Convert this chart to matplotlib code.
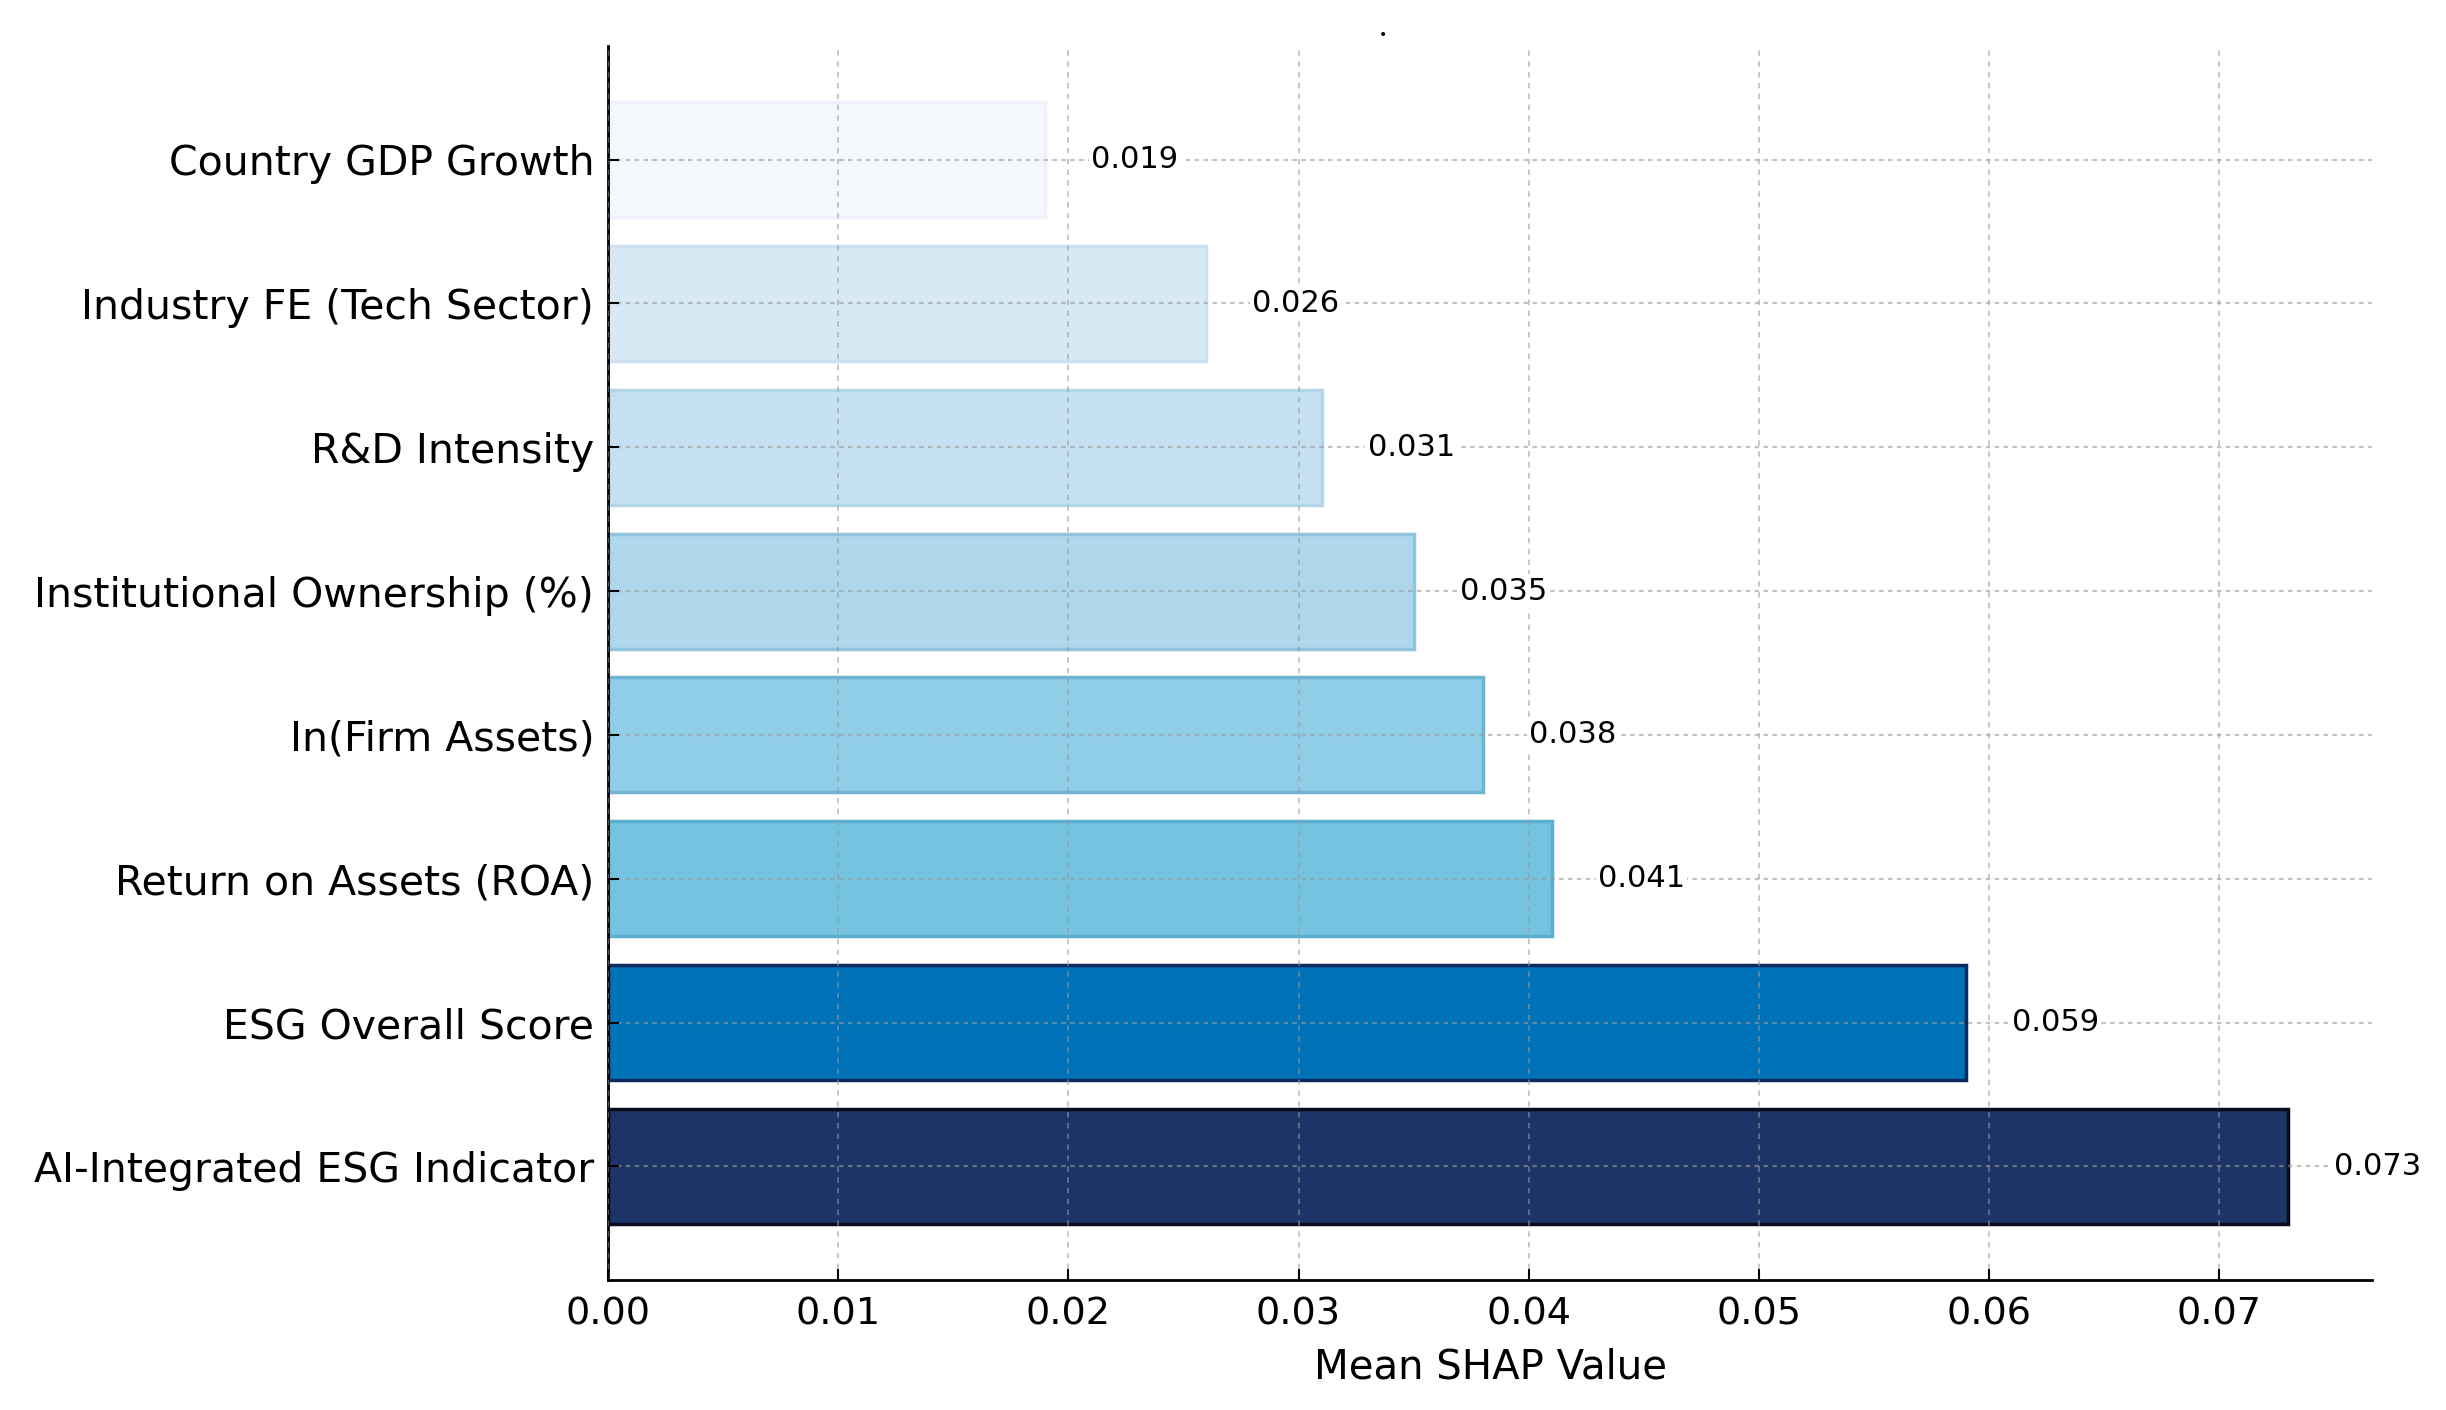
import matplotlib
matplotlib.use("Agg")
import matplotlib.pyplot as plt

#----Data----#
features = ["AI-Integrated ESG Indicator", "ESG Overall Score", "Return on Assets (ROA)",
            "In(Firm Assets)", "Institutional Ownership (%)", "R&D Intensity",
            "Industry FE (Tech Sector)", "Country GDP Growth"]
shap_values = [0.073, 0.059, 0.041, 0.038, 0.035, 0.031, 0.026, 0.019]
value_labels = ["0.073", "0.059", "0.041", "0.038", "0.035", "0.031", "0.026", "0.019"]
xtick_values = [0.00, 0.01, 0.02, 0.03, 0.04, 0.05, 0.06, 0.07]
xtick_labels = ["0.00", "0.01", "0.02", "0.03", "0.04", "0.05", "0.06", "0.07"]

bar_colors = ["#1d3566", "#0072b8", "#74c3e1", "#90cde6", "#aed7ec", "#c5e0f1", "#d7e9f5", "#f4f7fb"]
edge_colors = ["#080c1e", "#0d2a5e", "#5aaed0", "#6fb4d3", "#8fc3de", "#b3d5ea", "#cde1f0", "#eef2f8"]

#----Plot----#
fig = plt.figure(figsize=(24.46, 14.10), dpi=100)
ax = fig.add_axes([0.2486, 0.0922, 0.7212, 0.8752])

bars = ax.barh(features, shap_values, height=0.8, color=bar_colors,
               edgecolor=edge_colors, linewidth=2.5, zorder=2)

for bar, lab in zip(bars, value_labels):
    ax.text(bar.get_width() + 0.002, bar.get_y() + bar.get_height() / 2, lab,
            ha="left", va="center", fontsize=22, color="black", zorder=4,
            bbox=dict(facecolor="white", edgecolor="none", pad=1.5))

ax.set_xticks(xtick_values)
ax.set_xticklabels(xtick_labels)
ax.tick_params(axis="x", labelsize=27.5, direction="in", length=8, width=1.5, pad=12)
ax.tick_params(axis="y", labelsize=29.5, direction="in", length=8, width=1.5, pad=10)
ax.set_xlabel("Mean SHAP Value", fontsize=29, labelpad=11)

ax.spines["top"].set_visible(False)
ax.spines["right"].set_visible(False)
ax.spines["left"].set_linewidth(2)
ax.spines["bottom"].set_linewidth(2)

ax.set_axisbelow(False)
ax.xaxis.grid(True, linestyle=(0, (3, 3)), color="#9a9a9a", alpha=0.6, linewidth=1.3, zorder=3)
ax.yaxis.grid(True, linestyle=(0, (2, 2)), color="#9a9a9a", alpha=0.6, linewidth=1.6, zorder=3)

# stray mark at the top of the original figure
fig.text(0.5655, 0.975, "•", fontsize=10, ha="center", va="center", color="black")

fig.savefig("out.png", dpi=100)
